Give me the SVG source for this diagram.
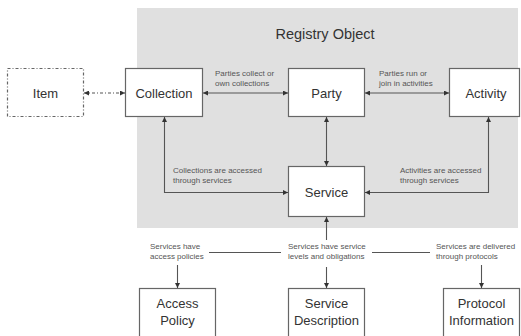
<svg xmlns="http://www.w3.org/2000/svg" width="521" height="336" viewBox="0 0 521 336">
<defs>
<marker id="ah" viewBox="0 0 10 10" refX="10" refY="5" markerWidth="5" markerHeight="5" markerUnits="userSpaceOnUse" orient="auto-start-reverse">
<path d="M0,0 L10,5 L0,10 z" fill="#333"/>
</marker>
<style>
.box{fill:#fff;stroke:#666;stroke-width:1.2}
.lbl{font-family:"Liberation Sans",Arial,sans-serif;font-size:13px;fill:#333;text-anchor:middle}
.sm{font-family:"Liberation Sans",Arial,sans-serif;font-size:8px;fill:#555}
.ln{fill:none;stroke:#555;stroke-width:1.1}
</style>
</defs>
<rect width="521" height="336" fill="#fff"/>
<rect x="137" y="8" width="381" height="220" fill="#e0e0e0"/>
<text x="325" y="38.5" font-family="Liberation Sans, Arial, sans-serif" font-size="14.5" fill="#333" text-anchor="middle">Registry Object</text>

<g id="item"><rect class="box" x="7.5" y="68.5" width="76" height="48" stroke-dasharray="3,2,1,2"/><text class="lbl" x="45.5" y="97.5">Item</text></g>
<g id="collection"><rect class="box" x="125.5" y="68.5" width="77" height="48"/><text class="lbl" x="164" y="97.5">Collection</text></g>
<g id="party"><rect class="box" x="288.5" y="68.5" width="76" height="48"/><text class="lbl" x="326.5" y="97.5">Party</text></g>
<g id="activity"><rect class="box" x="449.5" y="68.5" width="70" height="48"/><text class="lbl" x="486" y="97.5">Activity</text></g>
<g id="service"><rect class="box" x="288.5" y="166.5" width="76" height="50"/><text class="lbl" x="326.5" y="196.5">Service</text></g>
<g id="access-policy"><rect class="box" x="139.5" y="288.5" width="76" height="52"/><text class="lbl" x="177.5" y="308">Access</text><text class="lbl" x="177.5" y="325">Policy</text></g>
<g id="service-description"><rect class="box" x="288.5" y="288.5" width="76" height="52"/><text class="lbl" x="326.5" y="308">Service</text><text class="lbl" x="326.5" y="325">Description</text></g>
<g id="protocol-information"><rect class="box" x="443.5" y="288.5" width="76" height="52"/><text class="lbl" x="481.5" y="308">Protocol</text><text class="lbl" x="481.5" y="325">Information</text></g>

<g id="connectors">
<line class="ln" x1="84" y1="93" x2="125" y2="93" stroke-dasharray="3,2,1,2" marker-start="url(#ah)" marker-end="url(#ah)"/>
<line class="ln" x1="203" y1="93" x2="288" y2="93" marker-start="url(#ah)" marker-end="url(#ah)"/>
<line class="ln" x1="365" y1="93" x2="449" y2="93" marker-start="url(#ah)" marker-end="url(#ah)"/>
<line class="ln" x1="326.5" y1="117" x2="326.5" y2="166" marker-start="url(#ah)" marker-end="url(#ah)"/>
<polyline class="ln" points="164.5,117 164.5,192.5 288,192.5" marker-start="url(#ah)" marker-end="url(#ah)"/>
<polyline class="ln" points="488.5,117 488.5,192.5 365,192.5" marker-start="url(#ah)" marker-end="url(#ah)"/>
<line class="ln" x1="326.5" y1="240" x2="326.5" y2="217" marker-end="url(#ah)"/>
<line class="ln" x1="209" y1="252.5" x2="281" y2="252.5"/>
<line class="ln" x1="372" y1="252.5" x2="430" y2="252.5"/>
<line class="ln" x1="177.5" y1="265" x2="177.5" y2="288" marker-end="url(#ah)"/>
<line class="ln" x1="326.5" y1="267" x2="326.5" y2="288" marker-end="url(#ah)"/>
<line class="ln" x1="481.5" y1="265" x2="481.5" y2="288" marker-end="url(#ah)"/>
<text class="sm" x="215" y="76">Parties collect or</text>
<text class="sm" x="215" y="86">own collections</text>
<text class="sm" x="379" y="76">Parties run or</text>
<text class="sm" x="379" y="86">join in activities</text>
<text class="sm" x="173" y="173">Collections are accessed</text>
<text class="sm" x="173" y="183">through services</text>
<text class="sm" x="400" y="173">Activities are accessed</text>
<text class="sm" x="400" y="183">through services</text>
<text class="sm" x="150" y="248.5">Services have</text>
<text class="sm" x="150" y="259">access policies</text>
<text class="sm" x="288" y="248.5">Services have service</text>
<text class="sm" x="288" y="259">levels and obligations</text>
<text class="sm" x="436" y="248.5">Services are delivered</text>
<text class="sm" x="436" y="259">through protocols</text>
</g>
</svg>
